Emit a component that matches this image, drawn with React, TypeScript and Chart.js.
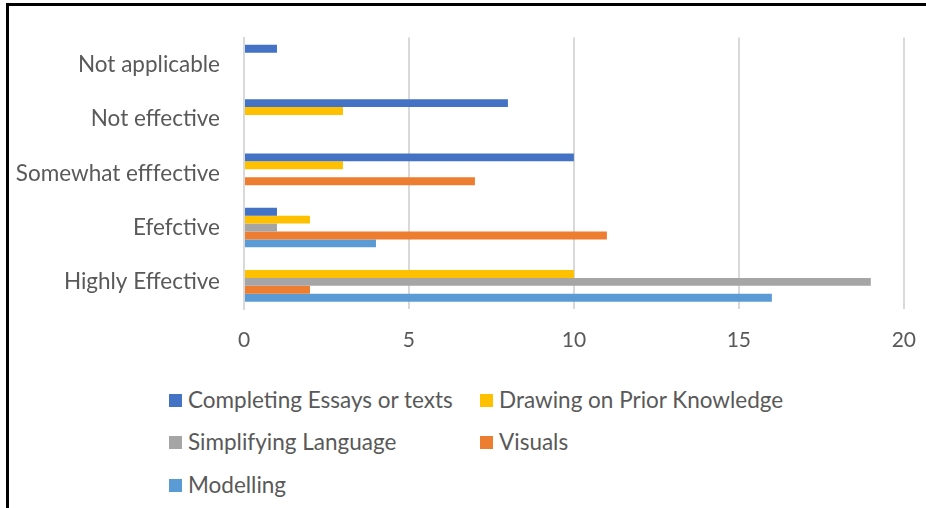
import React, { useEffect, useRef } from "react";
import { Chart, registerables } from "chart.js";

Chart.register(...registerables);

const categories = [
  "Not applicable",
  "Not effective",
  "Somewhat efffective",
  "Efefctive",
  "Highly Effective",
];

const seriesNames = [
  "Completing Essays or texts",
  "Drawing on Prior Knowledge",
  "Simplifying Language",
  "Visuals",
  "Modelling",
];

const completingEssays = [1, 8, 10, 1, 0];
const priorKnowledge = [0, 3, 3, 2, 10];
const simplifyingLanguage = [0, 0, 0, 1, 19];
const visuals = [0, 0, 7, 11, 2];
const modelling = [0, 0, 0, 4, 16];

const seriesColors = ["#4472C4", "#FFC000", "#A5A5A5", "#ED7D31", "#5B9BD5"];

const xTicks = [0, 5, 10, 15, 20];

const FONT = "Lato, 'Open Sans', sans-serif";
const TEXT = "#595959";

export default function App() {
  const canvasRef = useRef<HTMLCanvasElement | null>(null);

  useEffect(() => {
    const values = [completingEssays, priorKnowledge, simplifyingLanguage, visuals, modelling];
    const chart = new Chart(canvasRef.current as HTMLCanvasElement, {
      type: "bar",
      data: {
        labels: categories,
        datasets: values.map((v, i) => ({
          label: seriesNames[i],
          data: v,
          backgroundColor: seriesColors[i],
          borderWidth: 0,
          barPercentage: 1,
          categoryPercentage: 0.73,
        })),
      },
      options: {
        indexAxis: "y",
        animation: false,
        responsive: false,
        maintainAspectRatio: false,
        layout: { padding: { top: 33.5, right: 10, left: 0, bottom: 0 } },
        plugins: {
          legend: { display: false },
          tooltip: { enabled: false },
        },
        scales: {
          x: {
            min: 0,
            max: 20,
            afterBuildTicks: (scale: any) => {
              scale.ticks = xTicks.map((v) => ({ value: v }));
            },
            afterFit: (scale: any) => {
              scale.height = 50;
            },
            grid: { color: "#D9D9D9", lineWidth: 2, drawTicks: false },
            border: { display: false },
            ticks: {
              padding: 19,
              color: TEXT,
              font: { family: FONT, size: 21 },
            },
          },
          y: {
            afterFit: (scale: any) => {
              scale.width = 244;
            },
            grid: { display: false, drawTicks: false },
            border: { display: true, color: "#D9D9D9", width: 2 },
            ticks: {
              padding: 24,
              color: TEXT,
              font: { family: FONT, size: 22.5 },
            },
          },
        },
      },
    });
    return () => chart.destroy();
  }, []);

  const legendItems = [
    { i: 0, x: 169, y: 400 },
    { i: 1, x: 480, y: 400 },
    { i: 2, x: 169, y: 442 },
    { i: 3, x: 480, y: 442 },
    { i: 4, x: 169, y: 485 },
  ];

  return (
    <div
      style={{
        position: "fixed",
        left: 0,
        top: 0,
        width: 926,
        height: 508,
        background: "#fff",
        overflow: "hidden",
      }}
    >
      <canvas
        ref={canvasRef}
        width={935}
        height={359}
        style={{ position: "absolute", left: 0, top: 0, width: 935, height: 359 }}
      />
      {legendItems.map((it) => (
        <div
          key={it.i}
          style={{
            position: "absolute",
            left: it.x,
            top: it.y - 13,
            height: 26,
            lineHeight: "26px",
            display: "flex",
            alignItems: "center",
            fontFamily: FONT,
            fontSize: 22.5,
            color: TEXT,
            whiteSpace: "nowrap",
          }}
        >
          <span
            style={{
              display: "inline-block",
              width: 13,
              height: 13,
              background: seriesColors[it.i],
              marginRight: 6,
            }}
          />
          <span>{seriesNames[it.i]}</span>
        </div>
      ))}
      <div
        style={{
          position: "absolute",
          left: 6,
          top: 3,
          right: 0,
          bottom: 0,
          borderLeft: "3px solid #000",
          borderTop: "3px solid #000",
        }}
      />
    </div>
  );
}
